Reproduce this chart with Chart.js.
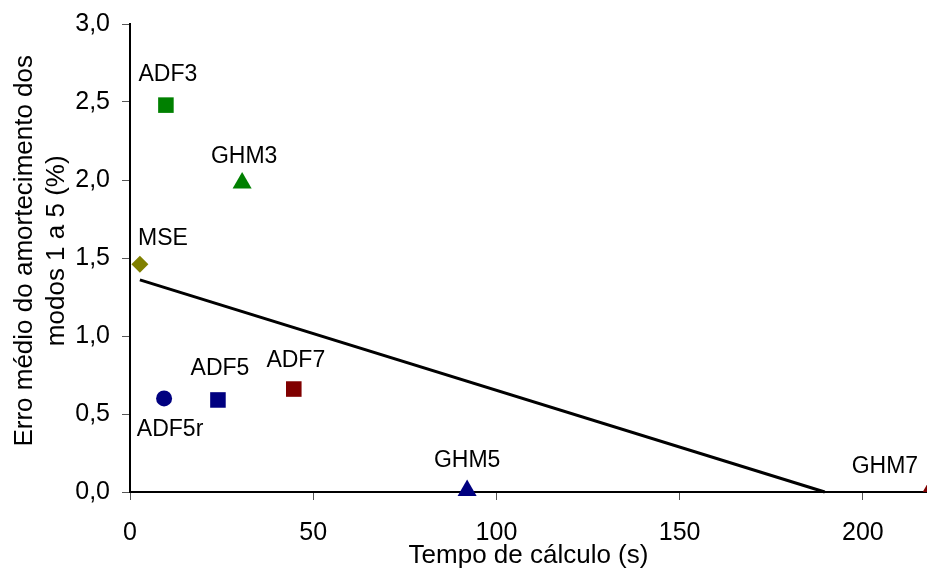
<!DOCTYPE html>
<html>
<head>
<meta charset="utf-8">
<script src="https://cdn.jsdelivr.net/npm/chart.js@4/dist/chart.umd.min.js"></script>
<style>
  body { margin: 0; background: #fff; }
  #wrap { width: 927px; height: 572px; }
</style>
</head>
<body>
<div id="wrap"><canvas id="tempoChart"></canvas></div>
<script>
// Methods (point names) and their values
const metodos = ["ADF3", "GHM3", "MSE", "ADF5r", "ADF5", "ADF7", "GHM5", "GHM7"];
const tempoCalculo = [9.8, 30.6, 2.7, 9.3, 24.0, 44.7, 92.0, 218.3];
const erroMedio = [2.48, 1.98, 1.46, 0.60, 0.59, 0.66, 0.01, 0.01];

// Trend line end points
const tendenciaX = [2.7, 189.6];
const tendenciaY = [1.36, 0];

const yTickLabels = ["0,0", "0,5", "1,0", "1,5", "2,0", "2,5", "3,0"];

// Marker styles per method
const cores = ["#008000", "#008000", "#808000", "#000080", "#000080", "#800000", "#000080", "#800000"];
const formas = ["rect", "triangle", "rectRot", "circle", "rect", "rect", "triangle", "triangle"];
const raios = [11, 11, 8.5, 8, 11, 11, 11, 11];
// label offset from the point, in pixels
const labelOffsets = [[2, -30], [2, -26], [23, -26], [6, 31], [2, -31], [2, -28], [0, -30], [-45, -24]];

const fontFamily = "'Liberation Sans', Arial, sans-serif";

const pointSets = metodos.map((nome, i) => ({
  label: nome,
  data: [{ x: tempoCalculo[i], y: erroMedio[i] }],
  pointStyle: formas[i],
  pointRadius: raios[i],
  pointBackgroundColor: cores[i],
  pointBorderColor: cores[i],
  pointBorderWidth: 0,
  showLine: false,
  clip: i === metodos.length - 1 ? 0 : false,
}));

const trendSet = {
  label: "Tendência",
  data: tendenciaX.map((x, i) => ({ x: x, y: tendenciaY[i] })),
  showLine: true,
  borderColor: "#000",
  borderWidth: 3,
  pointRadius: 0,
  clip: false,
};

// Draws the method names next to their points
const pointLabels = {
  id: "pointLabels",
  afterDatasetsDraw(chart) {
    const ctx = chart.ctx;
    const xs = chart.scales.x;
    const ys = chart.scales.y;
    ctx.save();
    ctx.font = "23px " + fontFamily;
    ctx.fillStyle = "#000";
    ctx.textAlign = "center";
    ctx.textBaseline = "middle";
    metodos.forEach((nome, i) => {
      const px = xs.getPixelForValue(tempoCalculo[i]) + labelOffsets[i][0];
      const py = ys.getPixelForValue(erroMedio[i]) + labelOffsets[i][1];
      ctx.fillText(nome, px, py);
    });
    ctx.restore();
  },
};

new Chart(document.getElementById("tempoChart"), {
  type: "scatter",
  data: { datasets: [trendSet].concat(pointSets) },
  plugins: [pointLabels],
  options: {
    responsive: true,
    maintainAspectRatio: false,
    animation: false,
    layout: { autoPadding: false, padding: { top: 24, right: 0, left: 0, bottom: 0 } },
    plugins: {
      legend: { display: false },
      tooltip: { enabled: false },
    },
    scales: {
      x: {
        type: "linear",
        min: 0,
        max: 217.5,
        afterFit(scale) {
          scale.height = 80;
          scale.paddingRight = 0;
          scale.paddingLeft = 0;
        },
        ticks: {
          stepSize: 50,
          includeBounds: false,
          color: "#000",
          padding: 18,
          font: { family: fontFamily, size: 25 },
        },
        grid: { drawOnChartArea: false, drawTicks: true, tickLength: 8, color: "#555", lineWidth: 1 },
        border: { color: "#000", width: 2 },
        title: {
          display: true,
          text: "Tempo de cálculo (s)",
          color: "#000",
          font: { family: fontFamily, size: 26 },
          padding: { top: 0, bottom: 1 },
        },
      },
      y: {
        min: 0,
        max: 3,
        afterFit(scale) {
          scale.width = 130;
          scale.paddingTop = 0;
          scale.paddingBottom = 0;
        },
        ticks: {
          stepSize: 0.5,
          color: "#000",
          padding: 12,
          font: { family: fontFamily, size: 25 },
          callback: (value, index) => yTickLabels[index],
        },
        grid: { drawOnChartArea: false, drawTicks: true, tickLength: 8, color: "#555", lineWidth: 1 },
        border: { color: "#000", width: 2 },
        title: {
          display: true,
          text: ["  Erro médio do amortecimento dos", "  modos 1 a 5 (%)"],
          color: "#000",
          font: { family: fontFamily, size: 26, lineHeight: 1.22 },
          padding: { top: 9, bottom: 0 },
        },
      },
    },
  },
});
</script>
</body>
</html>
